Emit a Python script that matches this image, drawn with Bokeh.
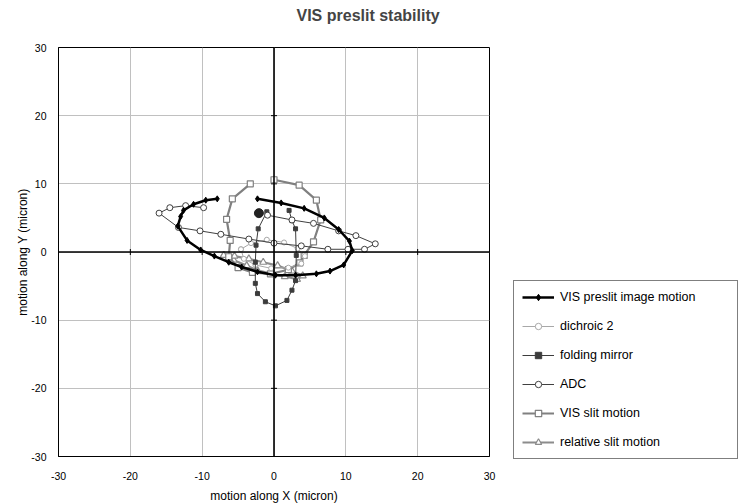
from bokeh.plotting import figure
from bokeh.models import Span, Legend, LegendItem, Title, FixedTicker, PrintfTickFormatter
from bokeh.embed import file_html
from bokeh.resources import INLINE
import math

# ---------------- data ----------------
tick_vals = [-30, -20, -10, 0, 10, 20, 30]
cross_ticks = [-30, -20, -10, 10, 20, 30]

vis_x = [-2.3, 1.0, 4.2, 7.0, 9.0, 10.5, 10.9, 9.7, 7.8, 5.9, 3.0, 0.2, -2.3, -4.5, -6.3, -8.3, -10.2, -12.1, -13.4, -13.0, -12.6, -11.2, -9.5, -7.9]
vis_y = [7.8, 7.2, 6.4, 5.0, 3.3, 1.6, 0.2, -1.9, -2.8, -3.2, -3.4, -3.4, -2.9, -2.2, -1.5, -0.6, 0.3, 1.7, 3.8, 5.2, 6.1, 7.0, 7.6, 7.8]

dich_x = [-4.6, -3.2, -1.0, 1.4, 3.3, 4.3, 3.8, 2.0, -0.4, -2.6, -4.2, -4.6]
dich_y = [0.4, 1.3, 1.8, 1.4, 0.5, -0.6, -1.7, -2.3, -2.4, -1.9, -1.0, 0.4]

fold_x = [-1.0, -2.2, -2.5, -2.6, -2.6, -2.3, -1.2, 0.2, 1.8, 2.5, 3.0, 3.1, 3.0, 2.5, 2.1]
fold_y = [5.9, 3.4, 1.0, -1.5, -4.6, -6.1, -7.3, -7.9, -7.1, -5.6, -4.2, -0.5, 3.4, 4.6, 6.1]
fold_dot_x = [-2.1]
fold_dot_y = [5.7]

adc_x = [-9.8, -12.3, -14.5, -16.0, -13.3, -10.3, -7.4, -3.5, 0.0, 3.8, 7.5, 10.3, 12.6, 14.1, 11.4, 9.0, 5.5, 2.5, -0.9]
adc_y = [6.5, 6.8, 6.5, 5.7, 3.6, 3.1, 2.6, 1.9, 1.3, 0.9, 0.4, 0.4, 0.4, 1.2, 2.4, 3.1, 4.2, 4.7, 5.4]

slit_x = [-3.3, -5.8, -6.6, -6.1, -6.3, -5.0, -3.0, -0.5, 2.0, 3.6, 4.2, 5.5, 6.5, 5.9, 3.5, 0.0]
slit_y = [10.0, 7.8, 4.8, 1.7, -0.7, -2.3, -3.0, -3.2, -2.6, -1.6, -0.5, 1.5, 4.7, 7.6, 9.8, 10.6]

rel_x = [-7.0, -5.6, -3.8, -2.3, -0.3, 1.5, 3.2, 4.0, 2.5, 0.5, -1.5, -3.5, -5.5, -7.0]
rel_y = [-0.5, -1.2, -2.0, -2.7, -3.2, -3.6, -4.0, -3.5, -2.8, -2.0, -1.5, -1.0, -0.6, -0.5]

FONT = "Liberation Sans"

p = figure(frame_width=431, frame_height=409, x_range=(-30, 30), y_range=(-30, 30),
           output_backend="svg", toolbar_location=None,
           min_border_left=58, min_border_right=0, min_border_top=47, min_border_bottom=48)

# spacer between title and frame, then the title itself
p.add_layout(Title(text=" ", text_font_size="1px", standoff=20), "above")
p.add_layout(Title(text="VIS preslit stability", align="left", offset=238,
                   text_font=FONT, text_font_size="16px", text_font_style="bold",
                   standoff=2), "above")

for ax in (p.xaxis[0], p.yaxis[0]):
    ax.ticker = FixedTicker(ticks=tick_vals)
    ax.formatter = PrintfTickFormatter(format="%d")
    ax.major_tick_out = 0
    ax.major_tick_in = 0
    ax.minor_tick_out = 0
    ax.minor_tick_in = 0
    ax.major_label_text_font = FONT
    ax.major_label_text_font_size = "10.5px"
    ax.major_label_text_color = "black"
    ax.axis_label_text_font = FONT
    ax.axis_label_text_font_size = "12px"
    ax.axis_label_text_font_style = "normal"
    ax.axis_label_text_color = "black"
    ax.axis_line_color = "black"
p.xaxis.axis_label = "motion along X (micron)"
p.yaxis.axis_label = "motion along Y (micron)"
p.xaxis.major_label_standoff = 15
p.xaxis.axis_label_standoff = 6
p.yaxis.major_label_standoff = 12
p.yaxis.axis_label_standoff = -2

p.xgrid.ticker = FixedTicker(ticks=tick_vals)
p.ygrid.ticker = FixedTicker(ticks=tick_vals)
p.grid.grid_line_color = "#c0c0c0"
p.grid.grid_line_width = 1
p.outline_line_color = "black"
p.outline_line_width = 1
p.background_fill_color = "white"
p.border_fill_color = "white"

p.add_layout(Span(location=0, dimension="width", line_color="black", line_width=1.6))
p.add_layout(Span(location=0, dimension="height", line_color="black", line_width=1.6))
p.scatter([0] * len(cross_ticks), cross_ticks, marker="dash", size=6, line_color="black", line_width=1)
p.scatter(cross_ticks, [0] * len(cross_ticks), marker="dash", angle=math.pi / 2, size=6,
          line_color="black", line_width=1)

# series
rel_l = p.line(rel_x, rel_y, line_color="#8c8c8c", line_width=2.2)
rel_m = p.scatter(rel_x, rel_y, marker="triangle", size=7, line_color="#8c8c8c", fill_color="white", line_width=1.2)

slit_l = p.line(slit_x, slit_y, line_color="#808080", line_width=2.2)
slit_m = p.scatter(slit_x, slit_y, marker="square", size=6, line_color="#808080", fill_color="white", line_width=1.2)

dich_l = p.line(dich_x, dich_y, line_color="#a8a8a8", line_width=1)
dich_m = p.scatter(dich_x, dich_y, marker="circle", size=5, line_color="#a8a8a8", fill_color="white", line_width=1)

fold_l = p.line(fold_x, fold_y, line_color="#3c3c3c", line_width=1)
fold_m = p.scatter(fold_x, fold_y, marker="square", size=4, line_color="#3c3c3c", fill_color="#3c3c3c")
p.scatter(fold_dot_x, fold_dot_y, marker="circle", size=9, line_color="#222222", fill_color="#222222")

adc_l = p.line(adc_x, adc_y, line_color="#404040", line_width=1)
adc_m = p.scatter(adc_x, adc_y, marker="circle", size=6, line_color="#404040", fill_color="white", line_width=1)

vis_l = p.line(vis_x, vis_y, line_color="black", line_width=2.5)
vis_m = p.scatter(vis_x, vis_y, marker="diamond", size=6, line_color="black", fill_color="black")

legend = Legend(items=[
    LegendItem(label="VIS preslit image motion", renderers=[vis_l, vis_m]),
    LegendItem(label="dichroic 2", renderers=[dich_l, dich_m]),
    LegendItem(label="folding mirror", renderers=[fold_l, fold_m]),
    LegendItem(label="ADC", renderers=[adc_l, adc_m]),
    LegendItem(label="VIS slit motion", renderers=[slit_l, slit_m]),
    LegendItem(label="relative slit motion", renderers=[rel_l, rel_m]),
], location=(24, -3))
legend.border_line_color = "black"
legend.border_line_width = 1
legend.background_fill_color = "white"
legend.background_fill_alpha = 1
legend.label_text_font = FONT
legend.label_text_font_size = "12.5px"
legend.label_text_color = "black"
legend.padding = 8
legend.margin = 0
legend.glyph_width = 32
legend.glyph_height = 16
legend.label_height = 16
legend.label_width = 169
legend.label_standoff = 6
legend.spacing = 13
p.add_layout(legend, "right")

open("out.html", "w").write(file_html(p, INLINE))
